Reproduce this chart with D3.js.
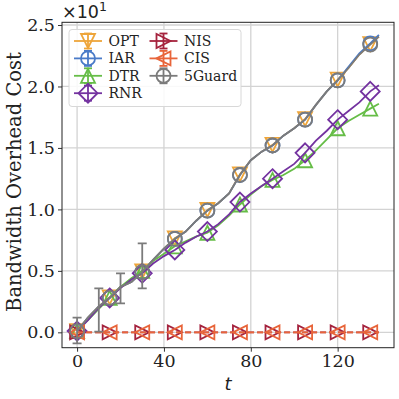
<!DOCTYPE html>
<html>
<head>
<meta charset="utf-8">
<script src="https://cdn.jsdelivr.net/npm/d3@7"></script>
<style>
  html, body { margin: 0; padding: 0; background: #fff; }
  svg { display: block; }
</style>
</head>
<body>
<div id="chart"></div>
<script>
// time steps (line vertices) and marker positions
const tSteps = [0, 5, 10, 15, 20, 25, 30, 35, 40, 45, 50, 55, 60, 65, 70, 75, 80, 85, 90, 95, 100, 105, 110, 115, 120, 125, 130, 135, 139];
const markerT = [0, 15, 30, 45, 60, 75, 90, 105, 120, 135];

// values in units of x10
const opt    = [0.01, 0.12, 0.21, 0.285, 0.37, 0.41, 0.495, 0.59, 0.68, 0.765, 0.82, 0.91, 0.995, 1.05, 1.13, 1.285, 1.40, 1.47, 1.525, 1.60, 1.66, 1.735, 1.85, 1.96, 2.055, 2.15, 2.26, 2.345, 2.405];
const iar    = [0.01, 0.12, 0.21, 0.28, 0.37, 0.41, 0.49, 0.59, 0.68, 0.76, 0.82, 0.91, 0.99, 1.05, 1.13, 1.28, 1.40, 1.47, 1.52, 1.60, 1.66, 1.73, 1.85, 1.96, 2.05, 2.16, 2.27, 2.35, 2.42];
const dtr    = [0.01, 0.10, 0.19, 0.28, 0.37, 0.44, 0.50, 0.58, 0.64, 0.70, 0.74, 0.78, 0.81, 0.87, 0.95, 1.04, 1.12, 1.19, 1.24, 1.28, 1.33, 1.40, 1.48, 1.57, 1.66, 1.72, 1.77, 1.82, 1.86];
const rnr    = [0.01, 0.10, 0.20, 0.28, 0.36, 0.43, 0.48, 0.56, 0.62, 0.67, 0.73, 0.78, 0.82, 0.88, 0.96, 1.06, 1.13, 1.19, 1.25, 1.31, 1.37, 1.46, 1.56, 1.64, 1.73, 1.80, 1.87, 1.96, 2.01];
const nis    = [0, 0, 0, 0, 0, 0, 0, 0, 0, 0, 0, 0, 0, 0, 0, 0, 0, 0, 0, 0, 0, 0, 0, 0, 0, 0, 0, 0, 0];
const cis    = [0, 0, 0, 0, 0, 0, 0, 0, 0, 0, 0, 0, 0, 0, 0, 0, 0, 0, 0, 0, 0, 0, 0, 0, 0, 0, 0, 0, 0];
const guard5 = [0.01, 0.12, 0.21, 0.28, 0.37, 0.41, 0.49, 0.59, 0.68, 0.76, 0.82, 0.91, 0.99, 1.05, 1.13, 1.28, 1.40, 1.47, 1.52, 1.60, 1.66, 1.73, 1.85, 1.96, 2.05, 2.15, 2.26, 2.34, 2.405];

// 5Guard error bars
const errT  = [0, 10, 20, 30];
const errLo = [-0.09, 0.005, 0.236, 0.358];
const errHi = [0.119, 0.358, 0.48, 0.724];

const xTicks = [0, 40, 80, 120];
const yTicks = [0, 0.5, 1.0, 1.5, 2.0, 2.5];

const series = [
  {name: "OPT",    vals: opt,    color: "#eea53a", marker: "tridown", dash: null},
  {name: "IAR",    vals: iar,    color: "#4a7bc8", marker: "circle",  dash: null},
  {name: "DTR",    vals: dtr,    color: "#66bd47", marker: "triup",   dash: null},
  {name: "RNR",    vals: rnr,    color: "#7433a0", marker: "diamond", dash: null},
  {name: "NIS",    vals: nis,    color: "#a5233e", marker: "triright",dash: "6,3"},
  {name: "CIS",    vals: cis,    color: "#e8653a", marker: "trileft", dash: "6,3"},
  {name: "5Guard", vals: guard5, color: "#7b7b7b", marker: "circle",  dash: null}
];

const W = 399, H = 399;
const plot = {left: 62, right: 394, top: 22.3, bottom: 347.7};

const svg = d3.select("#chart").append("svg")
  .attr("width", W).attr("height", H);

const x = d3.scaleLinear().domain([-6.95, 145.95]).range([plot.left, plot.right]);
const y = d3.scaleLinear().domain([-0.125, 2.522]).range([plot.bottom, plot.top]);

// marker paths, centred on 0,0
function markerPath(kind){
  let r = 7;
  switch(kind){
    case "circle":   return `M${r},0A${r},${r} 0 1,1 ${-r},0A${r},${r} 0 1,1 ${r},0Z`;
    case "triup":    return `M0,${-r}L${r},${r}L${-r},${r}Z`;
    case "tridown":  return `M0,${r}L${r},${-r}L${-r},${-r}Z`;
    case "triright": return `M${r},0L${-r},${-r}L${-r},${r}Z`;
    case "trileft":  return `M${-r},0L${r},${-r}L${r},${r}Z`;
    case "diamond":  { let d = 9.5; return `M0,${-d}L${d},0L0,${d}L${-d},0Z`; }
  }
}

// grid
const grid = svg.append("g");
grid.selectAll(".gx").data(xTicks).join("line")
  .attr("x1", d => x(d)).attr("x2", d => x(d))
  .attr("y1", plot.top).attr("y2", plot.bottom)
  .attr("stroke", "#d3d3d3").attr("stroke-width", 1.3);
grid.selectAll(".gy").data(yTicks).join("line")
  .attr("x1", plot.left).attr("x2", plot.right)
  .attr("y1", d => y(d)).attr("y2", d => y(d))
  .attr("stroke", "#d3d3d3").attr("stroke-width", 1.3);

// axes
const xAxis = d3.axisBottom(x).tickValues(xTicks).tickFormat(d3.format("d")).tickSize(4).tickPadding(3);
const yAxis = d3.axisLeft(y).tickValues(yTicks).tickFormat(d3.format(".1f")).tickSize(4).tickPadding(3);

svg.append("g").attr("transform", `translate(0,${plot.bottom})`).call(xAxis)
  .call(g => g.select(".domain").remove())
  .call(g => g.selectAll("text").attr("font-family", "DejaVu Serif").attr("font-size", 17.5).attr("fill", "#222"))
  .call(g => g.selectAll("line").attr("stroke", "#333"));
svg.append("g").attr("transform", `translate(${plot.left},0)`).call(yAxis)
  .call(g => g.select(".domain").remove())
  .call(g => g.selectAll("text").attr("font-family", "DejaVu Serif").attr("font-size", 17.5).attr("fill", "#222"))
  .call(g => g.selectAll("line").attr("stroke", "#333"));

// clip for data
svg.append("clipPath").attr("id", "clip").append("rect")
  .attr("x", plot.left).attr("y", plot.top)
  .attr("width", plot.right - plot.left).attr("height", plot.bottom - plot.top);

const data = svg.append("g").attr("clip-path", "url(#clip)");

const line = d3.line().x(d => x(d[0])).y(d => y(d[1]));

series.forEach(s => {
  let pts = tSteps.map((t, i) => [t, s.vals[i]]);
  let g = data.append("g");
  g.append("path").datum(pts)
    .attr("d", line)
    .attr("fill", "none")
    .attr("stroke", s.color)
    .attr("stroke-width", 1.8)
    .attr("stroke-dasharray", s.dash);

  if(s.name == "5Guard"){
    errT.forEach((t, i) => {
      let xe = x(t);
      g.append("line").attr("x1", xe).attr("x2", xe)
        .attr("y1", y(errLo[i])).attr("y2", y(errHi[i]))
        .attr("stroke", s.color).attr("stroke-width", 1.8);
      [errLo[i], errHi[i]].forEach(v => {
        g.append("line").attr("x1", xe - 4.5).attr("x2", xe + 4.5)
          .attr("y1", y(v)).attr("y2", y(v))
          .attr("stroke", s.color).attr("stroke-width", 1.8);
      });
    });
  }

  let mk = markerT.map(t => [t, s.vals[tSteps.indexOf(t)]]);
  g.selectAll(".m").data(mk).join("path")
    .attr("transform", d => `translate(${x(d[0])},${y(d[1])})`)
    .attr("d", markerPath(s.marker))
    .attr("fill", "none")
    .attr("stroke", s.color)
    .attr("stroke-width", 1.8);
});

// frame
svg.append("rect")
  .attr("x", plot.left).attr("y", plot.top)
  .attr("width", plot.right - plot.left).attr("height", plot.bottom - plot.top)
  .attr("fill", "none").attr("stroke", "#222").attr("stroke-width", 1);

// legend
const leg = svg.append("g");
leg.append("rect")
  .attr("x", 69).attr("y", 29.5).attr("width", 172).attr("height", 77)
  .attr("rx", 3).attr("fill", "#fff").attr("fill-opacity", 0.85)
  .attr("stroke", "#d8d8d8").attr("stroke-width", 1);

series.forEach((s, i) => {
  let col = i < 4 ? 0 : 1;
  let row = i < 4 ? i : i - 4;
  let hx = col == 0 ? 74 : 149.5;
  let cy = 41 + row * 17.4;
  let cx = hx + 14;
  let h = leg.append("g");
  h.append("line").attr("x1", hx).attr("x2", hx + 28).attr("y1", cy).attr("y2", cy)
    .attr("stroke", s.color).attr("stroke-width", 1.8);
  h.append("line").attr("x1", cx).attr("x2", cx).attr("y1", cy - 7.5).attr("y2", cy + 7.5)
    .attr("stroke", s.color).attr("stroke-width", 1.8);
  [cy - 7.5, cy + 7.5].forEach(v => {
    h.append("line").attr("x1", cx - 4).attr("x2", cx + 4).attr("y1", v).attr("y2", v)
      .attr("stroke", s.color).attr("stroke-width", 1.8);
  });
  h.append("path")
    .attr("transform", `translate(${cx},${cy})`)
    .attr("d", markerPath(s.marker))
    .attr("fill", "none").attr("stroke", s.color).attr("stroke-width", 1.8);
  leg.append("text")
    .attr("x", hx + 34.5).attr("y", cy + 5)
    .attr("font-family", "DejaVu Serif").attr("font-size", 14)
    .attr("fill", "#222").text(s.name);
});

// labels
svg.append("text")
  .attr("transform", `translate(21,182) rotate(-90)`)
  .attr("text-anchor", "middle")
  .attr("font-family", "DejaVu Serif").attr("font-size", 19.5)
  .attr("fill", "#222").text("Bandwidth Overhead Cost");

svg.append("text")
  .attr("x", (plot.left + plot.right) / 2).attr("y", 390)
  .attr("text-anchor", "middle")
  .attr("font-family", "DejaVu Sans").attr("font-style", "italic").attr("font-size", 18)
  .attr("fill", "#222").text("t");

const off = svg.append("text")
  .attr("x", 62).attr("y", 18)
  .attr("font-family", "DejaVu Sans").attr("font-size", 17.5).attr("fill", "#222");
off.append("tspan").text("×10");
off.append("tspan").attr("dy", -7).attr("font-size", 12.5).text("1");
</script>
</body>
</html>
